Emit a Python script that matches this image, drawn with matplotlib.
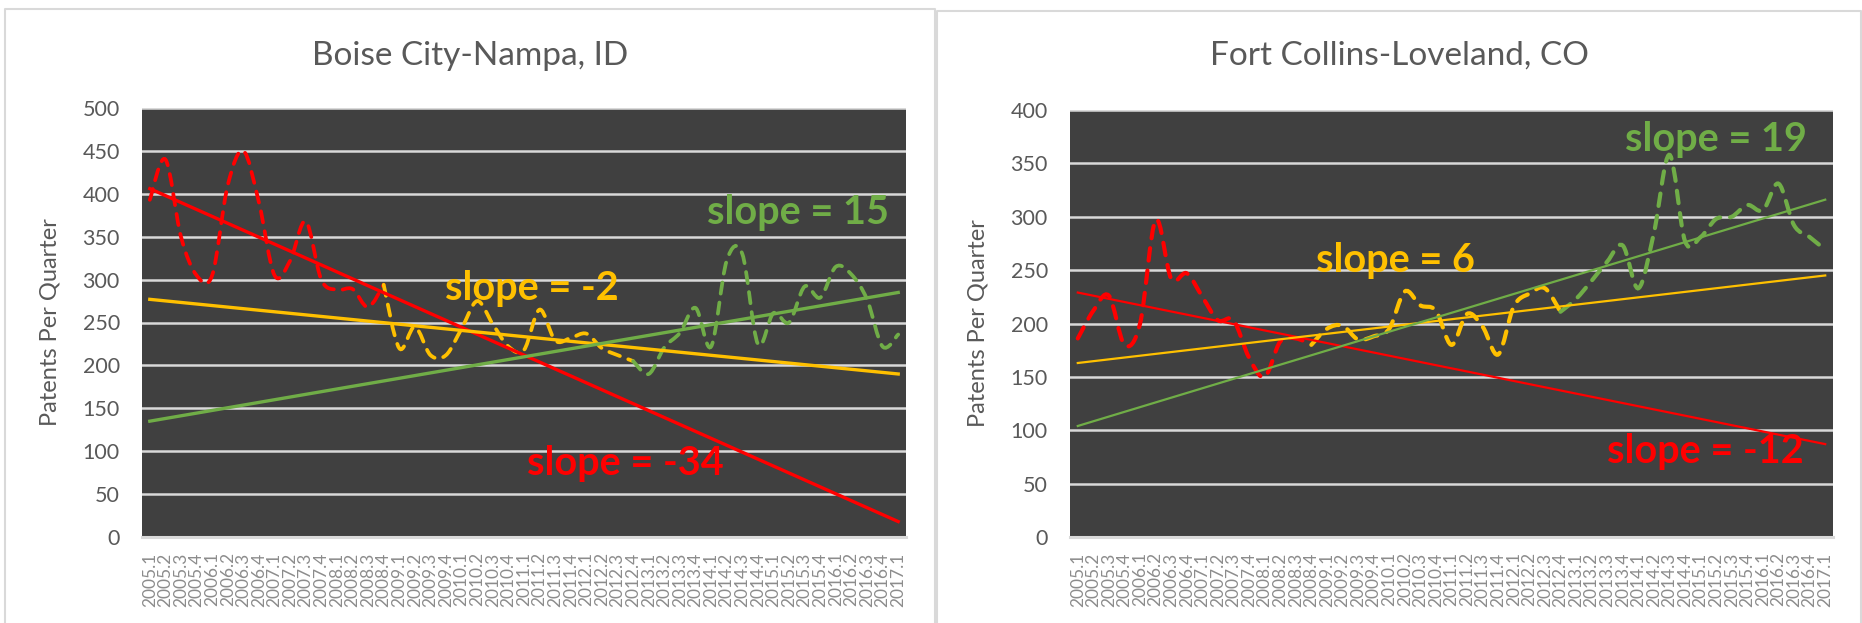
import numpy as np
import matplotlib
matplotlib.use('Agg')
import matplotlib.pyplot as plt
from matplotlib.path import Path
from matplotlib.patches import PathPatch
from matplotlib.lines import Line2D

plt.rcParams['font.family'] = ['Lato', 'DejaVu Sans']

# quarter labels 2005.1 ... 2017.1
quarters = ['%d.%d' % (y, q) for y in range(2005, 2017) for q in range(1, 5)] + ['2017.1']

boise = [393, 440, 350, 305, 305, 410, 450, 390, 305, 322, 368, 300, 288, 289, 268,
         294, 220, 245, 212, 212, 243, 275, 248, 222, 218, 265, 229, 232, 237, 220,
         212, 205, 190, 221, 238, 267, 222, 322, 330, 225, 261, 250, 292, 279, 315,
         306, 277, 222, 236]

fort = [186, 212, 226, 180, 200, 297, 242, 247, 225, 203, 203, 168, 150, 183, 186,
        180, 195, 198, 185, 188, 195, 230, 217, 212, 180, 209, 197, 171, 216, 228,
        233, 211, 223, 240, 258, 273, 233, 285, 358, 277, 281, 298, 300, 311, 306,
        331, 292, 281, 269]

# period boundaries (index of first / last quarter of each coloured segment)
periods = [(0, 15), (15, 31), (31, 48)]
period_colors = ['#FF0000', '#FFC000', '#70AD47']

# linear trend lines, value at 2005.1 and at 2017.1
boise_trends = [[406, 18], [277, 190], [135, 285]]
fort_trends = [[229, 87], [163, 245], [104, 316]]

boise_slopes = ['slope = -34', 'slope = -2', 'slope = 15']
fort_slopes = ['slope = -12', 'slope = 6', 'slope = 19']


def smooth_path(xs, ys):
    # excel style smoothed line: cubic bezier through every point
    pts = np.column_stack([xs, ys]).astype(float)
    n = len(pts)
    verts = [pts[0]]
    codes = [Path.MOVETO]
    for i in range(n - 1):
        p0 = pts[i - 1] if i > 0 else pts[i]
        p1 = pts[i]
        p2 = pts[i + 1]
        p3 = pts[i + 2] if i + 2 < n else pts[i + 1]
        verts += [p1 + (p2 - p0) / 6.0, p2 - (p3 - p1) / 6.0, p2]
        codes += [Path.CURVE4] * 3
    return Path(verts, codes)


def draw_panel(ax, values, trends, slopes, ymax, slope_pos, trend_lw, dash_lw):
    ax.set_facecolor('#404040')
    ax.set_xlim(-0.5, len(values) - 0.5)
    ax.set_ylim(0, ymax)
    ax.set_yticks(range(0, ymax + 1, 50))
    ax.grid(axis='y', color='#d9d9d9', lw=1.8)
    ax.set_axisbelow(True)
    for s in ['top', 'left', 'right']:
        ax.spines[s].set_visible(False)
    ax.spines['bottom'].set_color('#d9d9d9')
    ax.spines['bottom'].set_linewidth(2.2)

    ax.set_xticks(range(len(values)))
    ax.set_xticklabels(quarters, rotation=90, fontsize=12.5, color='#8c8c8c')
    ax.tick_params(axis='x', length=0, pad=11)
    ax.tick_params(axis='y', length=0, pad=16, labelsize=15.5, labelcolor='#595959')
    ax.set_ylabel('Patents Per Quarter', fontsize=17, color='#595959')
    ax.yaxis.set_label_coords(-0.107, 0.5)

    x = np.arange(len(values))
    vals = np.array(values)
    for (a, b), c in zip(periods, period_colors):
        p = smooth_path(x[a:b + 1], vals[a:b + 1])
        ax.add_patch(PathPatch(p, fill=False, edgecolor=c, lw=dash_lw,
                               linestyle=(0, (3.0, 2.4)), capstyle='round', zorder=3))

    for t, c in zip(trends, period_colors):
        ax.plot([0, len(values) - 1], t, color=c, lw=trend_lw, zorder=4)

    for s, c, (px, py) in zip(slopes, period_colors, slope_pos):
        ax.text(px, py, s, color=c, fontsize=28.5, fontweight='bold',
                ha='center', va='center', zorder=5)


fig = plt.figure(figsize=(18.62, 6.23), dpi=100)
fig.patch.set_facecolor('white')

# panel borders
W, H = 1862.0, 623.0
for x0, x1, y0 in [(5, 935, 9), (937, 1861, 11)]:
    fig.add_artist(Line2D([x0 / W, x0 / W, x1 / W, x1 / W], [0, 1 - y0 / H, 1 - y0 / H, 0],
                          color='#d9d9d9', lw=1.5))

ax1 = fig.add_axes([142 / W, 1 - 537 / H, 764 / W, 429 / H])
ax2 = fig.add_axes([1070 / W, 1 - 537 / H, 763 / W, 427 / H])

draw_panel(ax1, boise, boise_trends, boise_slopes, 500,
           [(30.5, 86), (24.5, 290), (41.6, 378)], 2.4, 2.7)
draw_panel(ax2, fort, fort_trends, fort_slopes, 400,
           [(40.3, 80), (20.4, 259), (41.0, 372)], 1.6, 3.0)

fig.text(470 / W, 1 - 56 / H, 'Boise City-Nampa, ID', fontsize=24, color='#595959',
         ha='center', va='center')
fig.text(1399 / W, 1 - 56 / H, 'Fort Collins-Loveland, CO', fontsize=24, color='#595959',
         ha='center', va='center')

fig.savefig('out.png', dpi=100)
